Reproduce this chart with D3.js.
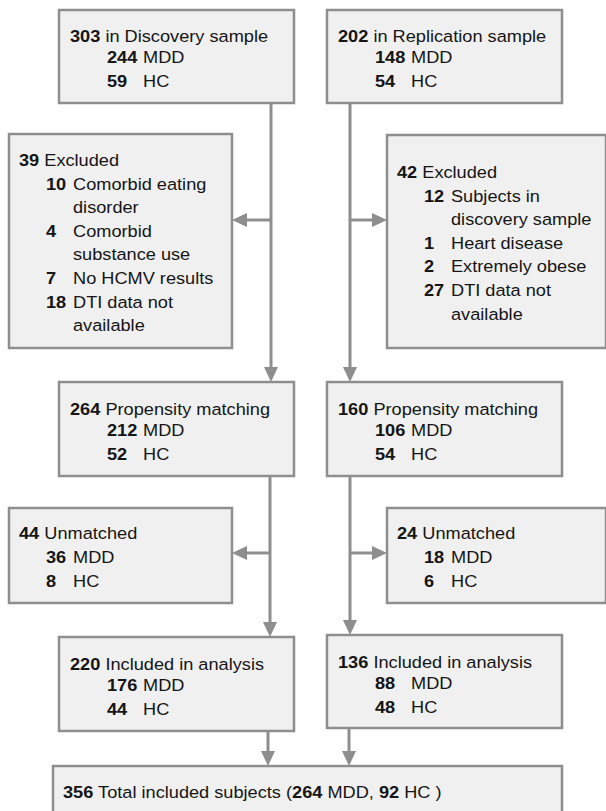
<!DOCTYPE html>
<html lang="en">
<head>
  <meta charset="UTF-8">
  <title>Study flowchart</title>
  <style>
    html, body { margin: 0; padding: 0; background: #fff; }
    svg { display: block; }
    .box { fill: #f0f0f0; stroke: #8e8e8e; stroke-width: 2.5px; }
    .flow { fill: none; stroke: #8e8e8e; stroke-width: 3px; }
    .head { fill: #8e8e8e; }
    text { font-family: 'Liberation Sans', Arial, sans-serif; font-size: 17px; fill: #151515; white-space: pre; }
  </style>
</head>
<body>
<svg width="606" height="811"></svg>

<script src="https://d3js.org/d3.v7.min.js"></script>
<script>
  // --- data (discovery, replication) ---
  const sampleNames = ["Discovery", "Replication"];
  const sampleTotals = [303, 202];
  const sampleMDD = [244, 148];
  const sampleHC = [59, 54];

  const excludedTotals = [39, 42];
  const excludedReasons = [
    [[10, "Comorbid eating", "disorder"], [4, "Comorbid", "substance use"], [7, "No HCMV results"], [18, "DTI data not", "available"]],
    [[12, "Subjects in", "discovery sample"], [1, "Heart disease"], [2, "Extremely obese"], [27, "DTI data not", "available"]]
  ];

  const matchedTotals = [264, 160];
  const matchedMDD = [212, 106];
  const matchedHC = [52, 54];

  const unmatchedTotals = [44, 24];
  const unmatchedMDD = [36, 18];
  const unmatchedHC = [8, 6];

  const includedTotals = [220, 136];
  const includedMDD = [176, 88];
  const includedHC = [44, 48];

  const totalCounts = [356, 264, 92]; // all, MDD, HC

  // --- layout ---
  const svg = d3.select("svg");
  const SX = 1.07; // the source font is a bit wider than Arial

  const mainX = [59, 327], mainW = 235;
  const sideX = [9, 387], sideW = [223, 219];
  const flowX = [[271, 270, 268], [350, 350, 349]]; // top, middle, bottom segment

  const rows = {
    sample:    {y: [10, 10],   h: [93, 93]},
    excluded:  {y: [134, 135], h: [214, 213]},
    matched:   {y: [382, 382], h: [94, 94]},
    unmatched: {y: [508, 508], h: [95, 95]},
    included:  {y: [637, 635], h: [94, 93]},
  };
  const branchY = [220, 553];

  const gLinks = svg.append("g");
  const gBoxes = svg.append("g");

  function box(x, y, w, h) {
    gBoxes.append("rect").attr("class", "box")
      .attr("x", x).attr("y", y).attr("width", w).attr("height", h);
  }

  function label(x, y, parts) {
    const t = gBoxes.append("text")
      .attr("transform", `translate(${x},${y}) scale(${SX},1)`);
    parts.forEach(p => {
      t.append("tspan").attr("font-weight", p[1] ? "bold" : null).text(p[0]);
    });
  }

  // three-line box: "N label" / "n MDD" / "n HC"
  function countBox(x, y, w, h, total, text, mdd, hc, base) {
    box(x, y, w, h);
    label(x + 11, y + base[0], [[String(total), true], [" " + text, false]]);
    label(x + 48, y + base[1], [[String(mdd), true]]);
    label(x + 84, y + base[1], [["MDD", false]]);
    label(x + 48, y + base[2], [[String(hc), true]]);
    label(x + 84, y + base[2], [["HC", false]]);
  }

  function sideBox(x, y, w, h, total, text, items, base, step) {
    box(x, y, w, h);
    label(x + 10, y + base, [[String(total), true], [" " + text, false]]);
    let line = 1;
    items.forEach(it => {
      label(x + 37, y + base + line * step, [[String(it[0]), true]]);
      it.slice(1).forEach(s => {
        label(x + 64, y + base + line * step, [[s, false]]);
        line++;
      });
    });
  }

  function arrowHead(x, y, dir) {
    // tip at (x, y); dir: "down", "left", "right"
    const L = 15, W = 7;
    let pts;
    if (dir === "down") pts = [[x, y], [x - W, y - L], [x + W, y - L]];
    else if (dir === "left") pts = [[x, y], [x + L, y - W], [x + L, y + W]];
    else pts = [[x, y], [x - L, y - W], [x - L, y + W]];
    gLinks.append("polygon").attr("class", "head").attr("points", pts.map(p => p.join(",")).join(" "));
  }

  function line(x1, y1, x2, y2) {
    gLinks.append("line").attr("class", "flow")
      .attr("x1", x1).attr("y1", y1).attr("x2", x2).attr("y2", y2);
  }

  sampleNames.forEach((name, i) => {
    const side = i === 0 ? "left" : "right";
    const sideTip = i === 0 ? sideX[0] + sideW[0] : sideX[1];

    // boxes
    countBox(mainX[i], rows.sample.y[i], mainW, rows.sample.h[i],
      sampleTotals[i], "in " + name + " sample", sampleMDD[i], sampleHC[i], [32, 53, 77]);
    sideBox(sideX[i], rows.excluded.y[i], sideW[i], rows.excluded.h[i],
      excludedTotals[i], "Excluded", excludedReasons[i], i === 0 ? 32 : 43, 23.6);
    countBox(mainX[i], rows.matched.y[i], mainW, rows.matched.h[i],
      matchedTotals[i], "Propensity matching", matchedMDD[i], matchedHC[i], [33, 54, 78]);
    sideBox(sideX[i], rows.unmatched.y[i], sideW[i], rows.unmatched.h[i],
      unmatchedTotals[i], "Unmatched", [[unmatchedMDD[i], "MDD"]], 31, 24);
    label(sideX[i] + 64, rows.unmatched.y[i] + 31 + 48, [["HC", false]]);
    label(sideX[i] + 37, rows.unmatched.y[i] + 31 + 48, [[String(unmatchedHC[i]), true]]);
    countBox(mainX[i], rows.included.y[i], mainW, rows.included.h[i],
      includedTotals[i], "Included in analysis", includedMDD[i], includedHC[i], [32.5, 53.5, 77.5]);

    // flow lines
    const [xa, xb, xc] = flowX[i];
    line(xa, rows.sample.y[i] + rows.sample.h[i], xa, rows.matched.y[i] - 10);
    arrowHead(xa, rows.matched.y[i], "down");
    line(xa, branchY[0], sideTip + (i === 0 ? 10 : -10), branchY[0]);
    arrowHead(sideTip, branchY[0], side);

    line(xb, rows.matched.y[i] + rows.matched.h[i], xb, rows.included.y[i] - 10);
    arrowHead(xb, rows.included.y[i], "down");
    line(xb, branchY[1], sideTip + (i === 0 ? 10 : -10), branchY[1]);
    arrowHead(sideTip, branchY[1], side);

    line(xc, rows.included.y[i] + rows.included.h[i], xc, 766 - 10);
    arrowHead(xc, 766, "down");
  });

  // total box
  box(53, 766, 509, 70);
  label(63, 798, [
    [String(totalCounts[0]), true], [" Total included subjects (", false],
    [String(totalCounts[1]), true], [" MDD, ", false],
    [String(totalCounts[2]), true], [" HC )", false]
  ]);
</script>
</body>
</html>
